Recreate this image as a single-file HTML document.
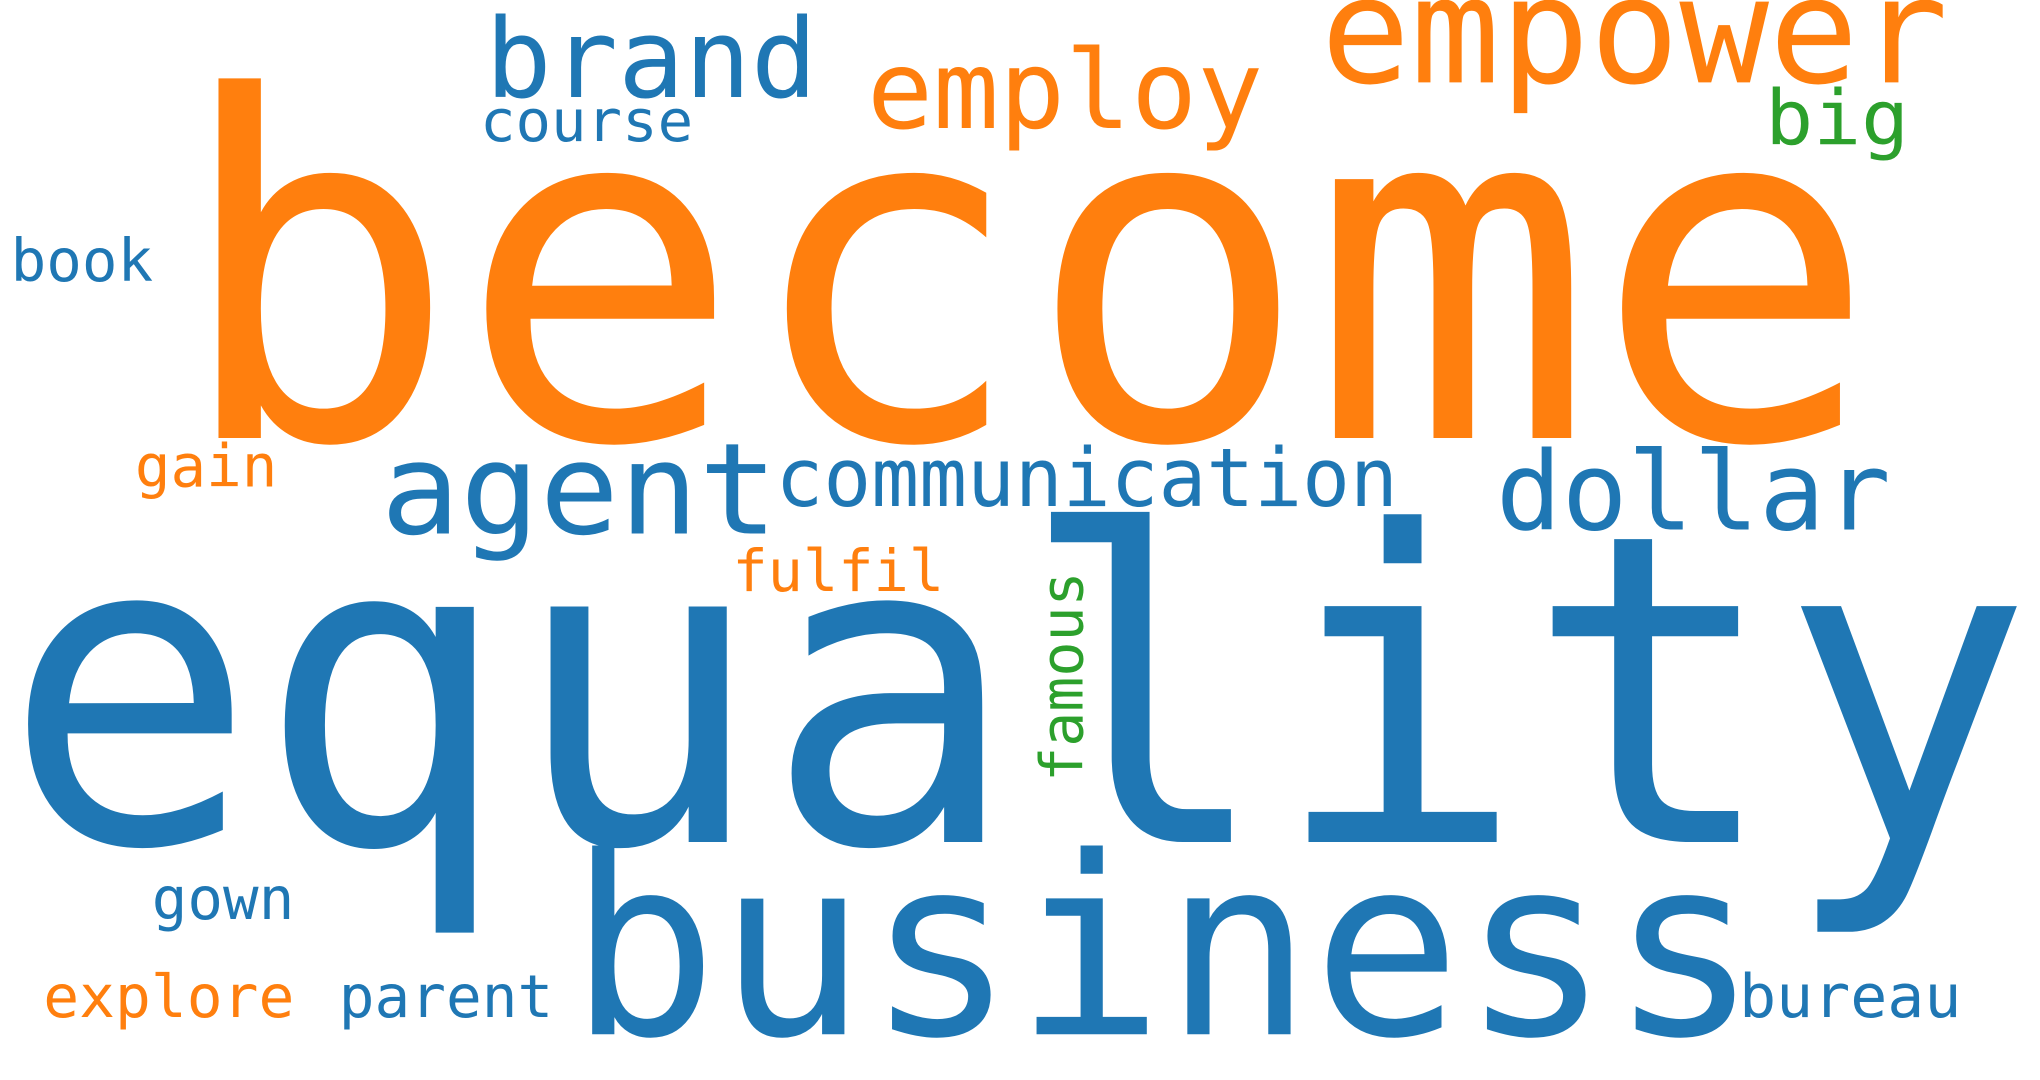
<!DOCTYPE html>
<html>
<head>
<meta charset="utf-8">
<style>
html,body{margin:0;padding:0;background:#fff;}
svg{display:block;}
text{font-family:"DejaVu Sans Mono","Liberation Mono",monospace;}
</style>
</head>
<body>
<svg id="cloud" width="2040" height="1080" viewBox="0 0 1560 826" xmlns="http://www.w3.org/2000/svg">
<rect width="1560" height="826" fill="#fff"/>
</svg>
<script>
const words = ["become","equality","business","agent","communication","dollar","empower","brand","employ","course","big","book","gain","fulfil","famous","gown","explore","parent","bureau"];
const colors = ["o","b","b","b","b","b","o","b","o","b","g","b","o","o","g","b","o","b","b"];
const sizes = [362,330,190,97,62,83,113,84,83,44,58,45,45,44,45,45,45,45,46];
const palette = {o:"#ff7f0e", b:"#1f77b4", g:"#2ca02c"};
// layout: [x, baselineY, width, rotated]
const layout = [
 [133,335,1303,0],[2,644,1553,0],[435,791,910,0],[291,408,304,0],
 [593,387,476,0],[1144,405,302,0],[1010,63,480,0],[371,74,254,0],
 [663,98,303,0],[367,108,163,0],[1350,110,110,0],[8,215,109,0],
 [103,372,109,0],[560,452,162,0],[828,598,161,1],[116,703,109,0],
 [33,778,192,0],[259,778,164,0],[1330,778,170,0]
];
const svg = document.getElementById('cloud');
words.forEach((w,i)=>{
  const [x,y,wd,rot] = layout[i];
  const t = document.createElementNS("http://www.w3.org/2000/svg","text");
  
  
  t.setAttribute('x', x);
  t.setAttribute('y', y);
  t.setAttribute('font-size', sizes[i]);
  t.setAttribute('fill', palette[colors[i]]);
  t.setAttribute('textLength', wd);
  t.setAttribute('lengthAdjust', 'spacingAndGlyphs');
  if (rot) t.setAttribute('transform', 'rotate(-90 ' + x + ' ' + y + ')');
  t.textContent = w;
  svg.appendChild(t);
});
</script>
</body>
</html>
